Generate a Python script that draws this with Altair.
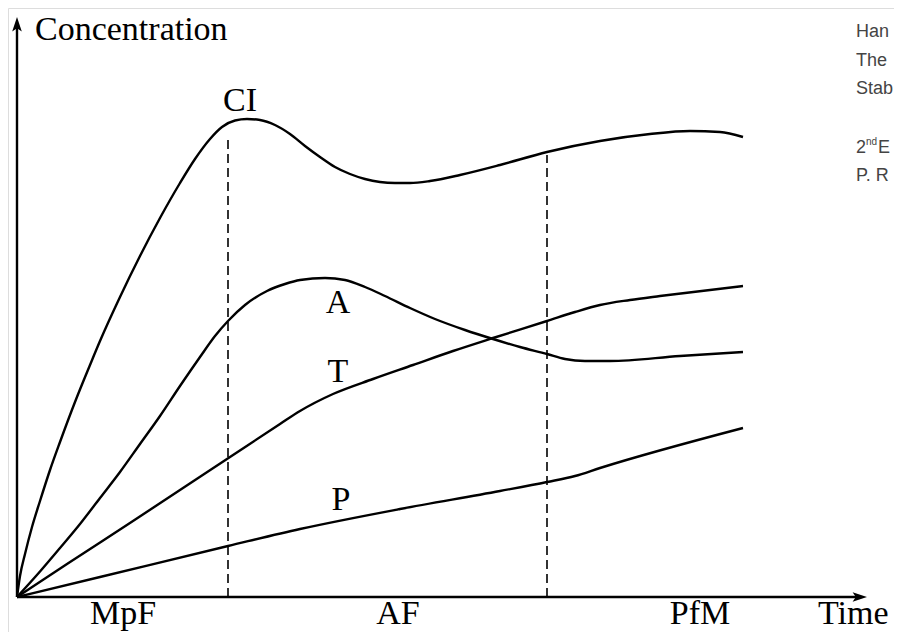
import altair as alt
import pandas as pd

# ---- curve data (time, concentration) ----
ci_t = [0, 3, 8, 15, 23, 33, 43, 58, 73, 83, 103, 123, 143, 163, 178, 193, 205, 218, 230, 243, 258, 273, 288,
        303, 318, 333, 348, 363, 378, 393, 413, 443, 483, 530, 583, 633, 673, 703, 726]
ci_c = [0, 21, 43, 70, 96, 127, 155, 195, 232, 256, 300, 341, 379, 414, 438, 458, 470, 476.5, 478, 477, 472, 463, 451,
        440, 430, 423, 418, 415, 414, 414, 416, 422, 432, 445, 456, 463, 466, 465, 460]

a_t = [0, 23, 43, 63, 83, 103, 123, 143, 163, 183, 198, 211, 228, 250, 268, 283, 308, 328, 348, 368, 393, 418,
       448, 476, 503, 530, 548, 568, 593, 663, 726]
a_c = [0, 25.5, 49, 73, 99, 125, 153, 181, 211, 240, 261, 276, 292, 306, 313, 317, 319, 317, 310, 301, 289, 278,
       267, 258, 250, 243, 238, 236, 236, 241, 245]

t_t = [0, 50, 116, 213, 263, 283, 316, 356, 396, 436, 476, 530, 558, 583, 613, 643, 726]
t_c = [0, 33, 76, 140, 173, 186, 203, 218, 232, 246, 259, 276, 285, 292, 297, 301, 311]

p_t = [0, 83, 211, 283, 383, 483, 530, 558, 583, 726]
p_c = [0, 20, 51, 68, 88, 106, 115, 121, 129, 169]

# phase boundaries (dashed)
phase_t = [211, 530]
phase_top = [460, 442]

# axis extents
x_axis_end = 842
y_axis_end = 572

# labels
curve_labels = ["CI", "A", "T", "P"]
curve_label_t = [223, 321, 321, 324]
curve_label_c = [486, 284, 215, 87]

phase_labels = ["MpF", "AF", "PfM"]
phase_label_t = [106, 381, 683]
phase_label_c = [-27, -27, -27]

note_lines = ["Han", "The", "Stab", "P. R"]
note_c = [560, 531, 503, 416]

# ---- build tables ----
def series(name, t, c):
    return pd.DataFrame({"t": t, "c": c, "s": name})

curves = pd.concat([
    series("CI", ci_t, ci_c),
    series("A", a_t, a_c),
    series("T", t_t, t_c),
    series("P", p_t, p_c),
], ignore_index=True)

xs = alt.Scale(domain=[-9, 877], nice=False, zero=False)
ys = alt.Scale(domain=[-35, 589], nice=False, zero=False)

X = lambda f: alt.X(f, type="quantitative", scale=xs, axis=None)
Y = lambda f: alt.Y(f, type="quantitative", scale=ys, axis=None)

lines = alt.Chart(curves).mark_line(
    color="black", strokeWidth=2.4, interpolate="monotone"
).encode(x=X("t"), y=Y("c"), detail="s:N", order="t:Q")

dash_df = pd.DataFrame({"t": phase_t, "c0": [0, 0], "c1": phase_top})
dashes = alt.Chart(dash_df).mark_rule(
    color="black", strokeWidth=1.6, strokeDash=[9, 5]
).encode(x=X("t"), y=Y("c0"), y2="c1")

axes_df = pd.DataFrame({"t0": [0, 0], "c0": [0, 0], "t1": [x_axis_end, 0], "c1": [0, y_axis_end]})
axes = alt.Chart(axes_df).mark_rule(color="black", strokeWidth=2.4).encode(
    x=X("t0"), y=Y("c0"), x2="t1", y2="c1"
)

arrow_r = alt.Chart(pd.DataFrame({"t": [x_axis_end], "c": [0]})).mark_point(
    shape="M1,0L-0.8,0.6L-0.4,0L-0.8,-0.6Z", filled=True, color="black", size=256, opacity=1
).encode(x=X("t"), y=Y("c"))
arrow_u = alt.Chart(pd.DataFrame({"t": [0], "c": [y_axis_end]})).mark_point(
    shape="M0,-1L0.6,0.8L0,0.4L-0.6,0.8Z", filled=True, color="black", size=256, opacity=1
).encode(x=X("t"), y=Y("c"))

serif = "Liberation Serif"
lbl_df = pd.DataFrame({
    "t": curve_label_t + phase_label_t,
    "c": curve_label_c + phase_label_c,
    "txt": curve_labels + phase_labels,
})
labels = alt.Chart(lbl_df).mark_text(
    font=serif, fontSize=34, color="black", align="center", baseline="alphabetic"
).encode(x=X("t"), y=Y("c"), text="txt:N")

left_df = pd.DataFrame({"t": [18, 801], "c": [557, -27], "txt": ["Concentration", "Time"]})
left_labels = alt.Chart(left_df).mark_text(
    font=serif, fontSize=34, color="black", align="left", baseline="alphabetic"
).encode(x=X("t"), y=Y("c"), text="txt:N")

note_x = 839
note_df = pd.DataFrame({"t": [note_x] * len(note_lines), "c": note_c, "txt": note_lines})
notes = alt.Chart(note_df).mark_text(
    font="Liberation Sans", fontSize=18, color="#444", align="left", baseline="alphabetic"
).encode(x=X("t"), y=Y("c"), text="txt:N")

ed_df = pd.DataFrame({"t": [note_x, note_x + 22], "c": [444, 444], "txt": ["2", "E"]})
ed = alt.Chart(ed_df).mark_text(
    font="Liberation Sans", fontSize=18, color="#444", align="left", baseline="alphabetic"
).encode(x=X("t"), y=Y("c"), text="txt:N")
sup = alt.Chart(pd.DataFrame({"t": [note_x + 10], "c": [452], "txt": ["nd"]})).mark_text(
    font="Liberation Sans", fontSize=10, color="#444", align="left", baseline="alphabetic"
).encode(x=X("t"), y=Y("c"), text="txt:N")

chart = alt.layer(
    dashes, lines, axes, arrow_r, arrow_u, labels, left_labels, notes, ed, sup
).properties(
    width=886, height=624, padding=0,
    autosize=alt.AutoSizeParams(type="none")
).configure_view(stroke=None).configure(background="white")

chart.save("out.html", embed_options={"renderer": "svg", "actions": False})
